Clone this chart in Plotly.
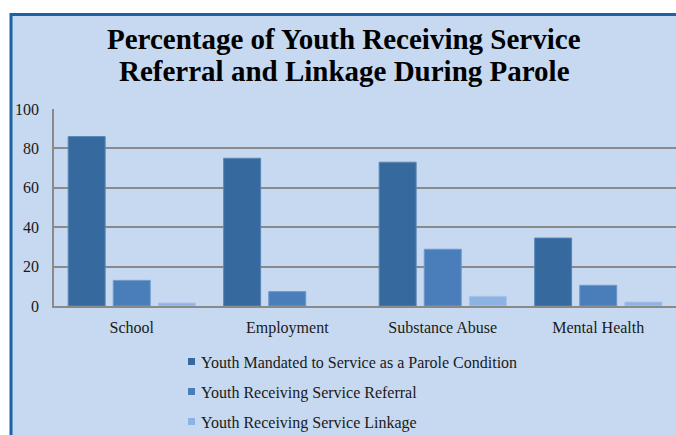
import plotly.graph_objects as go

categories = ["School", "Employment", "Substance Abuse", "Mental Health"]
mandated = [86, 75, 73, 34.5]
referral = [13, 7.3, 28.8, 10.5]
linkage = [1.5, 0, 4.9, 2]
series_names = [
    "Youth Mandated to Service as a Parole Condition",
    "Youth Receiving Service Referral",
    "Youth Receiving Service Linkage",
]
title_lines = ["Percentage of Youth Receiving Service", "Referral and Linkage During Parole"]
y_ticks = [0, 20, 40, 60, 80, 100]

colors = ["#36699E", "#4A7EBB", "#8DB3E2"]
edge = ["#5A86B5", "#6E98CB", "#A6C3E8"]
serif = "Liberation Serif"
txt = "#1a1a1a"

W, H = 676, 435
PL, PT, PB, PR = 54, 109, 306, 676          # plot area in window pixels
pw, ph = PR - PL, PB - PT


def px(x):
    return (x - PL) / pw


def py(y):
    return (PB - y) / ph


fig = go.Figure()
for i, (name, vals) in enumerate(zip(series_names, [mandated, referral, linkage])):
    fig.add_trace(go.Bar(
        x=categories, y=vals, name=name,
        marker=dict(color=colors[i],
                    line=dict(color=edge[i], width=[1 if v > 0 else 0 for v in vals])),
    ))

shapes = [
    dict(type="rect", xref="paper", yref="paper",
         x0=px(11), x1=px(760), y0=py(520), y1=py(14.5),
         fillcolor="#C6D9F0", line=dict(color="#1D62A6", width=3), layer="below"),
]
annotations = []
for j, line in enumerate(title_lines):
    annotations.append(dict(
        text=f"<b>{line}</b>", xref="paper", yref="paper",
        x=px(344), y=py(39 + 32 * j), xanchor="center", yanchor="middle",
        showarrow=False, font=dict(family=serif, size=29, color="black"),
    ))
leg_y = [361.5, 391.5, 421.5]
for i, name in enumerate(series_names):
    shapes.append(dict(
        type="rect", xref="paper", yref="paper",
        x0=px(188), x1=px(195), y0=py(leg_y[i] + 3.5), y1=py(leg_y[i] - 3.5),
        fillcolor=colors[i], line=dict(width=0),
    ))
    annotations.append(dict(
        text=name, xref="paper", yref="paper", x=px(199), y=py(leg_y[i] + 1),
        xanchor="left", yanchor="middle", showarrow=False,
        font=dict(family=serif, size=16, color=txt),
    ))

fig.update_layout(
    width=W, height=H,
    margin=dict(l=PL, r=W - PR, t=PT, b=H - PB, pad=0),
    paper_bgcolor="white",
    plot_bgcolor="rgba(0,0,0,0)",
    barmode="group", bargap=0.13, bargroupgap=0.18,
    font=dict(family=serif, size=16, color=txt),
    showlegend=False,
    shapes=shapes,
    annotations=annotations,
)
fig.update_yaxes(
    range=[0, 100], tickvals=y_ticks, showgrid=True, gridcolor="#8A8A8A", gridwidth=1.5,
    showline=True, linecolor="#8A8A8A", linewidth=1.5, zeroline=False,
    ticks="", ticklabelstandoff=10, tickfont=dict(family=serif, size=16, color=txt),
)
fig.update_xaxes(
    showline=True, linecolor="#8A8A8A", linewidth=1.5, ticks="",
    ticklabelstandoff=6, tickfont=dict(family=serif, size=16, color=txt),
)

fig.write_html(
    "out.html",
    config={"displayModeBar": False},
    post_script="document.body.style.margin='0';document.body.style.overflow='hidden';",
)
